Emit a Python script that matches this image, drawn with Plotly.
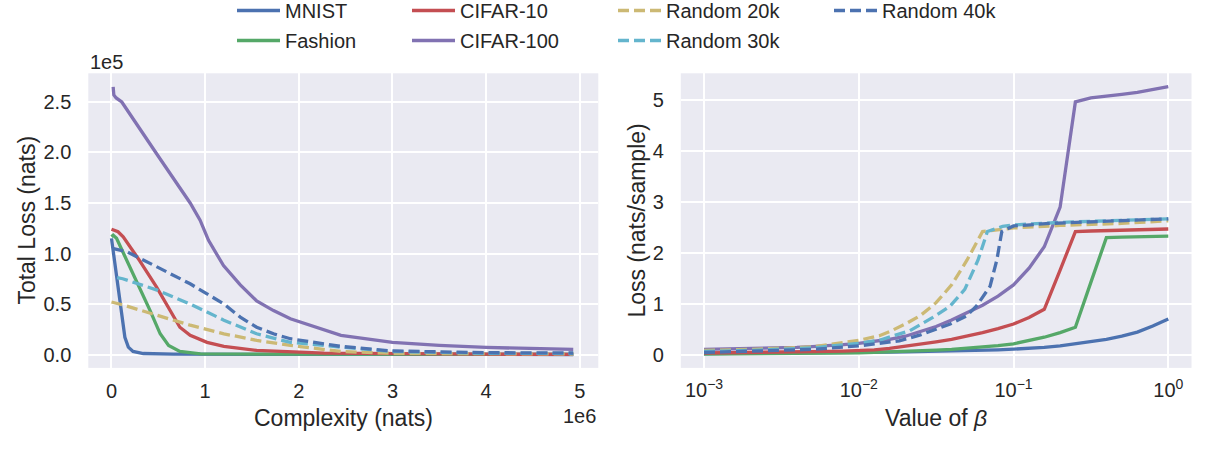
import plotly.graph_objects as go

# ---------------- Left panel: Total loss vs complexity ----------------
# complexity in units of 1e6 nats, total loss in units of 1e5 nats
mnist_cx = [0.0, 0.036, 0.071, 0.107, 0.143, 0.18, 0.23, 0.34, 0.66, 1.5, 3.0, 4.93]
mnist_loss = [1.15, 0.90, 0.636, 0.37, 0.17, 0.073, 0.03, 0.01, 0.003, 0.001, 0.0005, 0.0003]

fashion_cx = [0.0, 0.018, 0.054, 0.196, 0.30, 0.41, 0.52, 0.61, 0.73, 0.95, 1.55, 3.0, 4.93]
fashion_loss = [1.165, 1.18, 1.15, 0.87, 0.67, 0.44, 0.205, 0.09, 0.03, 0.007, 0.003, 0.001, 0.0005]

cifar10_cx = [0.0, 0.07, 0.125, 0.30, 0.48, 0.625, 0.73, 0.84, 1.02, 1.2, 1.55, 2.27, 3.0, 4.0, 4.93]
cifar10_loss = [1.24, 1.215, 1.165, 0.93, 0.67, 0.44, 0.27, 0.19, 0.12, 0.08, 0.04, 0.013, 0.006, 0.003, 0.002]

cifar100_cx = [0.018, 0.025, 0.05, 0.11, 0.48, 0.84, 0.946, 1.036, 1.196, 1.375, 1.55, 1.73,
               1.91, 2.27, 2.45, 3.0, 3.5, 4.0, 4.93]
cifar100_loss = [2.65, 2.57, 2.54, 2.50, 1.99, 1.50, 1.33, 1.13, 0.88, 0.69, 0.53, 0.435,
                 0.354, 0.24, 0.19, 0.12, 0.09, 0.07, 0.05]

r20k_cx = [0.0, 0.125, 0.48, 0.84, 1.2, 1.55, 1.91, 2.27, 2.45, 3.0, 4.0, 4.93]
r20k_loss = [0.52, 0.49, 0.39, 0.29, 0.205, 0.14, 0.09, 0.045, 0.03, 0.012, 0.006, 0.005]

r30k_cx = [0.06, 0.12, 0.48, 0.84, 1.02, 1.2, 1.55, 1.91, 2.27, 2.45, 3.0, 4.0, 4.93]
r30k_loss = [0.76, 0.75, 0.64, 0.50, 0.42, 0.34, 0.205, 0.12, 0.09, 0.073, 0.03, 0.012, 0.01]

r40k_cx = [0.01, 0.16, 0.48, 0.84, 1.02, 1.2, 1.375, 1.55, 1.73, 1.91, 2.45, 3.0, 4.0, 4.93]
r40k_loss = [1.05, 1.02, 0.87, 0.70, 0.60, 0.50, 0.37, 0.27, 0.205, 0.156, 0.08, 0.035, 0.018, 0.015]

# ---------------- Right panel: loss per sample vs beta ----------------
beta = [0.001, 0.00126, 0.00158, 0.002, 0.00251, 0.00316, 0.00398, 0.00501, 0.00631, 0.00794,
        0.01, 0.0126, 0.0158, 0.02, 0.0251, 0.0316, 0.0398, 0.0501, 0.0631, 0.0794,
        0.1, 0.126, 0.158, 0.2, 0.251, 0.316, 0.398, 0.501, 0.631, 0.794, 1.0]
mnist_b = [0.02, 0.021, 0.022, 0.023, 0.024, 0.026, 0.028, 0.030, 0.032, 0.035,
           0.038, 0.042, 0.046, 0.051, 0.056, 0.062, 0.068, 0.075, 0.083, 0.092,
           0.105, 0.12, 0.14, 0.17, 0.21, 0.25, 0.30, 0.36, 0.44, 0.56, 0.70]
fashion_b = [0.01, 0.011, 0.012, 0.013, 0.015, 0.017, 0.019, 0.022, 0.026, 0.030,
             0.035, 0.042, 0.05, 0.06, 0.07, 0.085, 0.10, 0.12, 0.145, 0.175,
             0.21, 0.27, 0.34, 0.43, 0.535, 1.42, 2.30, 2.31, 2.32, 2.33, 2.33]
cifar10_b = [0.03, 0.032, 0.034, 0.037, 0.04, 0.044, 0.048, 0.053, 0.06, 0.068,
             0.078, 0.09, 0.12, 0.16, 0.20, 0.25, 0.30, 0.36, 0.43, 0.51,
             0.60, 0.73, 0.89, 1.66, 2.42, 2.43, 2.44, 2.45, 2.46, 2.47, 2.47]
cifar100_b = [0.10, 0.105, 0.11, 0.115, 0.12, 0.13, 0.14, 0.155, 0.17, 0.195,
              0.22, 0.26, 0.30, 0.36, 0.46, 0.55, 0.68, 0.82, 0.97, 1.15,
              1.37, 1.70, 2.12, 2.90, 4.97, 5.05, 5.08, 5.12, 5.16, 5.21, 5.27]

r20k_beta = [0.001, 0.002, 0.005, 0.01, 0.0136, 0.0158, 0.02, 0.0251, 0.0316, 0.0398, 0.0501,
             0.0631, 0.1, 0.2, 0.5, 1.0]
r20k_b = [0.08, 0.10, 0.15, 0.28, 0.37, 0.45, 0.60, 0.77, 1.02, 1.37, 1.86,
          2.42, 2.49, 2.54, 2.58, 2.63]
r30k_beta = [0.001, 0.002, 0.005, 0.01, 0.0136, 0.0214, 0.0301, 0.0388, 0.0484, 0.059,
             0.0678, 0.085, 0.1, 0.2, 0.5, 1.0]
r30k_b = [0.06, 0.08, 0.13, 0.22, 0.28, 0.47, 0.73, 0.95, 1.28, 1.86,
          2.42, 2.52, 2.55, 2.60, 2.64, 2.67]
r40k_beta = [0.001, 0.002, 0.005, 0.01, 0.0183, 0.0247, 0.039, 0.0497, 0.0575, 0.0705,
             0.078, 0.084, 0.1, 0.174, 0.4, 1.0]
r40k_b = [0.04, 0.06, 0.10, 0.17, 0.27, 0.38, 0.60, 0.76, 0.95, 1.34,
          1.86, 2.42, 2.53, 2.58, 2.63, 2.67]

names = ["MNIST", "Fashion", "CIFAR-10", "CIFAR-100", "Random 20k", "Random 30k", "Random 40k"]
colors = ["#4C72B0", "#55A868", "#C44E52", "#8172B2", "#CCB974", "#64B5CD", "#4C72B0"]
dashes = ["solid", "solid", "solid", "solid", "11px,5px", "11px,5px", "11px,5px"]
legend_ids = ["legend", "legend", "legend2", "legend2", "legend3", "legend3", "legend4"]

left_x = [mnist_cx, fashion_cx, cifar10_cx, cifar100_cx, r20k_cx, r30k_cx, r40k_cx]
left_y = [mnist_loss, fashion_loss, cifar10_loss, cifar100_loss, r20k_loss, r30k_loss, r40k_loss]
right_x = [beta, beta, beta, beta, r20k_beta, r30k_beta, r40k_beta]
right_y = [mnist_b, fashion_b, cifar10_b, cifar100_b, r20k_b, r30k_b, r40k_b]

FONT = "Liberation Sans, Arial, sans-serif"
TXT = "#262626"
LW = 3.3

fig = go.Figure()
for i, n in enumerate(names):
    fig.add_trace(go.Scatter(
        x=left_x[i], y=left_y[i], mode="lines", name=n,
        line=dict(color=colors[i], width=LW, dash=dashes[i]),
        xaxis="x", yaxis="y", legend=legend_ids[i], legendgroup=n, showlegend=True))
for i, n in enumerate(names):
    fig.add_trace(go.Scatter(
        x=right_x[i], y=right_y[i], mode="lines", name=n,
        line=dict(color=colors[i], width=LW, dash=dashes[i]),
        xaxis="x2", yaxis="y2", legendgroup=n, showlegend=False))

W, H = 1207, 452
ydom = [1 - 367.9 / H, 1 - 73.3 / H]
axis_common = dict(showgrid=True, gridcolor="white", gridwidth=1.6, zeroline=False,
                   showline=False, ticks="outside", tickcolor="rgba(0,0,0,0)",
                   tickfont=dict(family=FONT, size=20, color=TXT))

fig.update_layout(
    width=W, height=H,
    margin=dict(l=0, r=0, t=0, b=0, autoexpand=False),
    paper_bgcolor="white", plot_bgcolor="#EAEAF2",
    font=dict(family=FONT, color=TXT),
    xaxis=dict(domain=[88.3 / W, 598.3 / W], range=[-0.2475, 5.1975],
               tickvals=[0, 1, 2, 3, 4, 5], ticktext=["0", "1", "2", "3", "4", "5"],
               ticklen=5, anchor="y", **axis_common),
    yaxis=dict(domain=ydom, range=[-0.1326, 2.784],
               tickvals=[0, 0.5, 1.0, 1.5, 2.0, 2.5],
               ticktext=["0.0", "0.5", "1.0", "1.5", "2.0", "2.5"],
               ticklen=12, anchor="x", **axis_common),
    xaxis2=dict(domain=[680.8 / W, 1191.5 / W], type="log", range=[-3.15, 0.15],
                tickvals=[0.001, 0.01, 0.1, 1],
                ticktext=["10<sup>−3</sup>", "10<sup>−2</sup>", "10<sup>−1</sup>", "10<sup>0</sup>"],
                ticklen=4, anchor="y2", **axis_common),
    yaxis2=dict(domain=ydom, range=[-0.2635, 5.5335],
                tickvals=[0, 1, 2, 3, 4, 5],
                ticklen=12, anchor="x2", **axis_common),
    showlegend=True,
)

leg_common = dict(orientation="v", yanchor="top", y=1.0 + 9 / H, xanchor="left",
                  bgcolor="rgba(0,0,0,0)", itemwidth=43, tracegroupgap=1,
                  font=dict(family=FONT, size=20, color=TXT), itemclick=False)
fig.update_layout(
    legend=dict(x=232 / W, **leg_common),
    legend2=dict(x=407 / W, **leg_common),
    legend3=dict(x=613 / W, **leg_common),
    legend4=dict(x=829 / W, **leg_common),
)

TS = 23
ann = []
ann.append(dict(text="Total Loss (nats)", x=27 / W, y=(ydom[0] + ydom[1]) / 2, xref="paper", yref="paper",
                textangle=-90, showarrow=False, font=dict(size=TS, family=FONT, color=TXT),
                xanchor="center", yanchor="middle"))
ann.append(dict(text="Loss (nats/sample)", x=637 / W, y=(ydom[0] + ydom[1]) / 2, xref="paper", yref="paper",
                textangle=-90, showarrow=False, font=dict(size=TS, family=FONT, color=TXT),
                xanchor="center", yanchor="middle"))
ann.append(dict(text="Complexity (nats)", x=(88.3 + 598.3) / 2 / W, y=1 - 418 / H, xref="paper", yref="paper",
                showarrow=False, font=dict(size=TS, family=FONT, color=TXT),
                xanchor="center", yanchor="middle"))
ann.append(dict(text="Value of <i>β</i>", x=(680.8 + 1191.5) / 2 / W, y=1 - 418 / H, xref="paper", yref="paper",
                showarrow=False, font=dict(size=TS, family=FONT, color=TXT),
                xanchor="center", yanchor="middle"))
ann.append(dict(text="1e5", x=88 / W, y=1 - 62 / H, xref="paper", yref="paper",
                showarrow=False, font=dict(size=20, family=FONT, color=TXT),
                xanchor="left", yanchor="middle"))
ann.append(dict(text="1e6", x=598 / W, y=1 - 416 / H, xref="paper", yref="paper",
                showarrow=False, font=dict(size=20, family=FONT, color=TXT),
                xanchor="right", yanchor="middle"))
fig.update_layout(annotations=ann)

fig.write_html("out.html")
